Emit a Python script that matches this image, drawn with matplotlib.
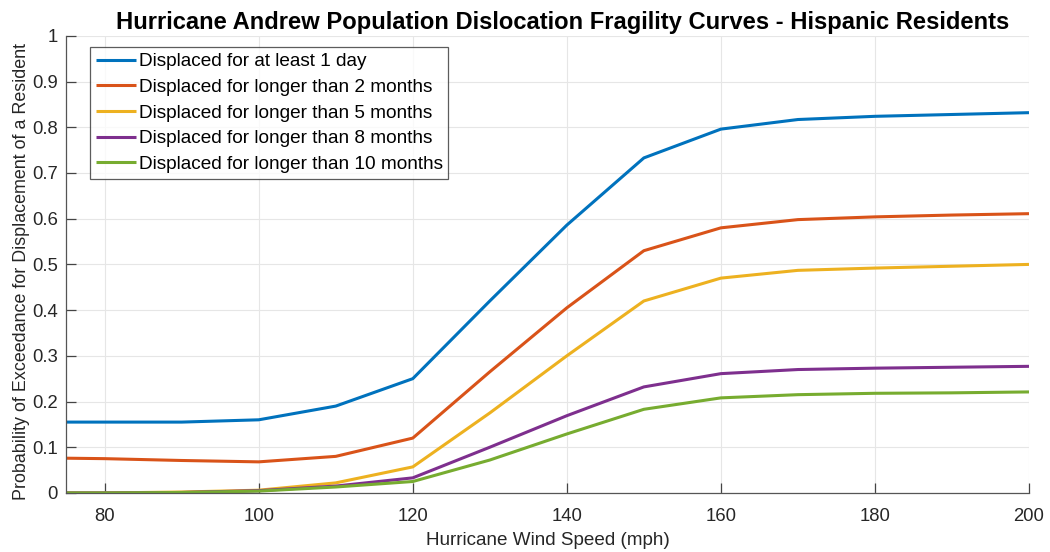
import matplotlib
matplotlib.use("Agg")
import matplotlib.pyplot as plt

# wind speeds (mph)
speed = [75, 80, 90, 100, 110, 120, 130, 140, 150, 160, 170, 180, 190, 200]

day1 = [0.155, 0.155, 0.155, 0.160, 0.190, 0.250, 0.420, 0.586, 0.733, 0.796, 0.817, 0.824, 0.828, 0.832]
mon2 = [0.076, 0.075, 0.071, 0.068, 0.080, 0.120, 0.265, 0.405, 0.530, 0.580, 0.598, 0.604, 0.608, 0.611]
mon5 = [0.000, 0.000, 0.002, 0.006, 0.022, 0.057, 0.175, 0.300, 0.420, 0.470, 0.487, 0.492, 0.496, 0.500]
mon8 = [0.000, 0.000, 0.001, 0.005, 0.015, 0.033, 0.100, 0.169, 0.232, 0.261, 0.270, 0.273, 0.275, 0.277]
mon10 = [0.000, 0.000, 0.001, 0.004, 0.013, 0.025, 0.072, 0.129, 0.183, 0.208, 0.215, 0.218, 0.219, 0.221]

labels = ['Displaced for at least 1 day',
          'Displaced for longer than 2 months',
          'Displaced for longer than 5 months',
          'Displaced for longer than 8 months',
          'Displaced for longer than 10 months']
colors = ['#0072BD', '#D95319', '#EDB120', '#7E2F8E', '#77AC30']

plt.rcParams['font.family'] = ['Liberation Sans', 'DejaVu Sans']

fig = plt.figure(figsize=(10.5, 5.52), dpi=100)
ax = fig.add_axes([0.063, 0.107, 0.917, 0.828])

for ys, lab, c in zip([day1, mon2, mon5, mon8, mon10], labels, colors):
    ax.plot(speed, ys, color=c, lw=2.2, label=lab, solid_capstyle='butt')

ax.set_xlim(75, 200)
ax.set_ylim(0, 1)
ax.set_xticks([80, 100, 120, 140, 160, 180, 200])
ax.set_yticks([0, 0.1, 0.2, 0.3, 0.4, 0.5, 0.6, 0.7, 0.8, 0.9, 1])
ax.set_yticklabels(['0', '0.1', '0.2', '0.3', '0.4', '0.5', '0.6', '0.7', '0.8', '0.9', '1'])
ax.grid(True, color='#e6e6e6', lw=0.8)
ax.set_axisbelow(True)
for s in ['top', 'right']:
    ax.spines[s].set_visible(False)
for s in ['left', 'bottom']:
    ax.spines[s].set_color('#555555')
    ax.spines[s].set_linewidth(0.9)
ax.tick_params(direction='in', length=7, width=0.9, colors='#444444', labelsize=13.3, labelcolor='#262626')
ax.tick_params(axis='x', pad=11)
ax.tick_params(axis='y', pad=6)

ax.set_xlabel('Hurricane Wind Speed (mph)', fontsize=13.6, color='#262626', labelpad=5)
ax.set_ylabel('Probability of Exceedance for Displacement of a Resident', fontsize=12.9, color='#262626')
ax.yaxis.set_label_coords(-0.038, 0.485)
ax.set_title('Hurricane Andrew Population Dislocation Fragility Curves - Hispanic Residents',
             fontsize=17.1, fontweight='bold', pad=5, x=0.516)

leg = ax.legend(loc='upper left', bbox_to_anchor=(0.025, 0.975), fontsize=13.7,
                frameon=True, fancybox=False, handlelength=2.1, handletextpad=0.15,
                labelspacing=0.44, borderpad=0.3, borderaxespad=0)
leg.get_frame().set_edgecolor('#333333')
leg.get_frame().set_linewidth(0.9)

fig.savefig('out.png', dpi=100)
